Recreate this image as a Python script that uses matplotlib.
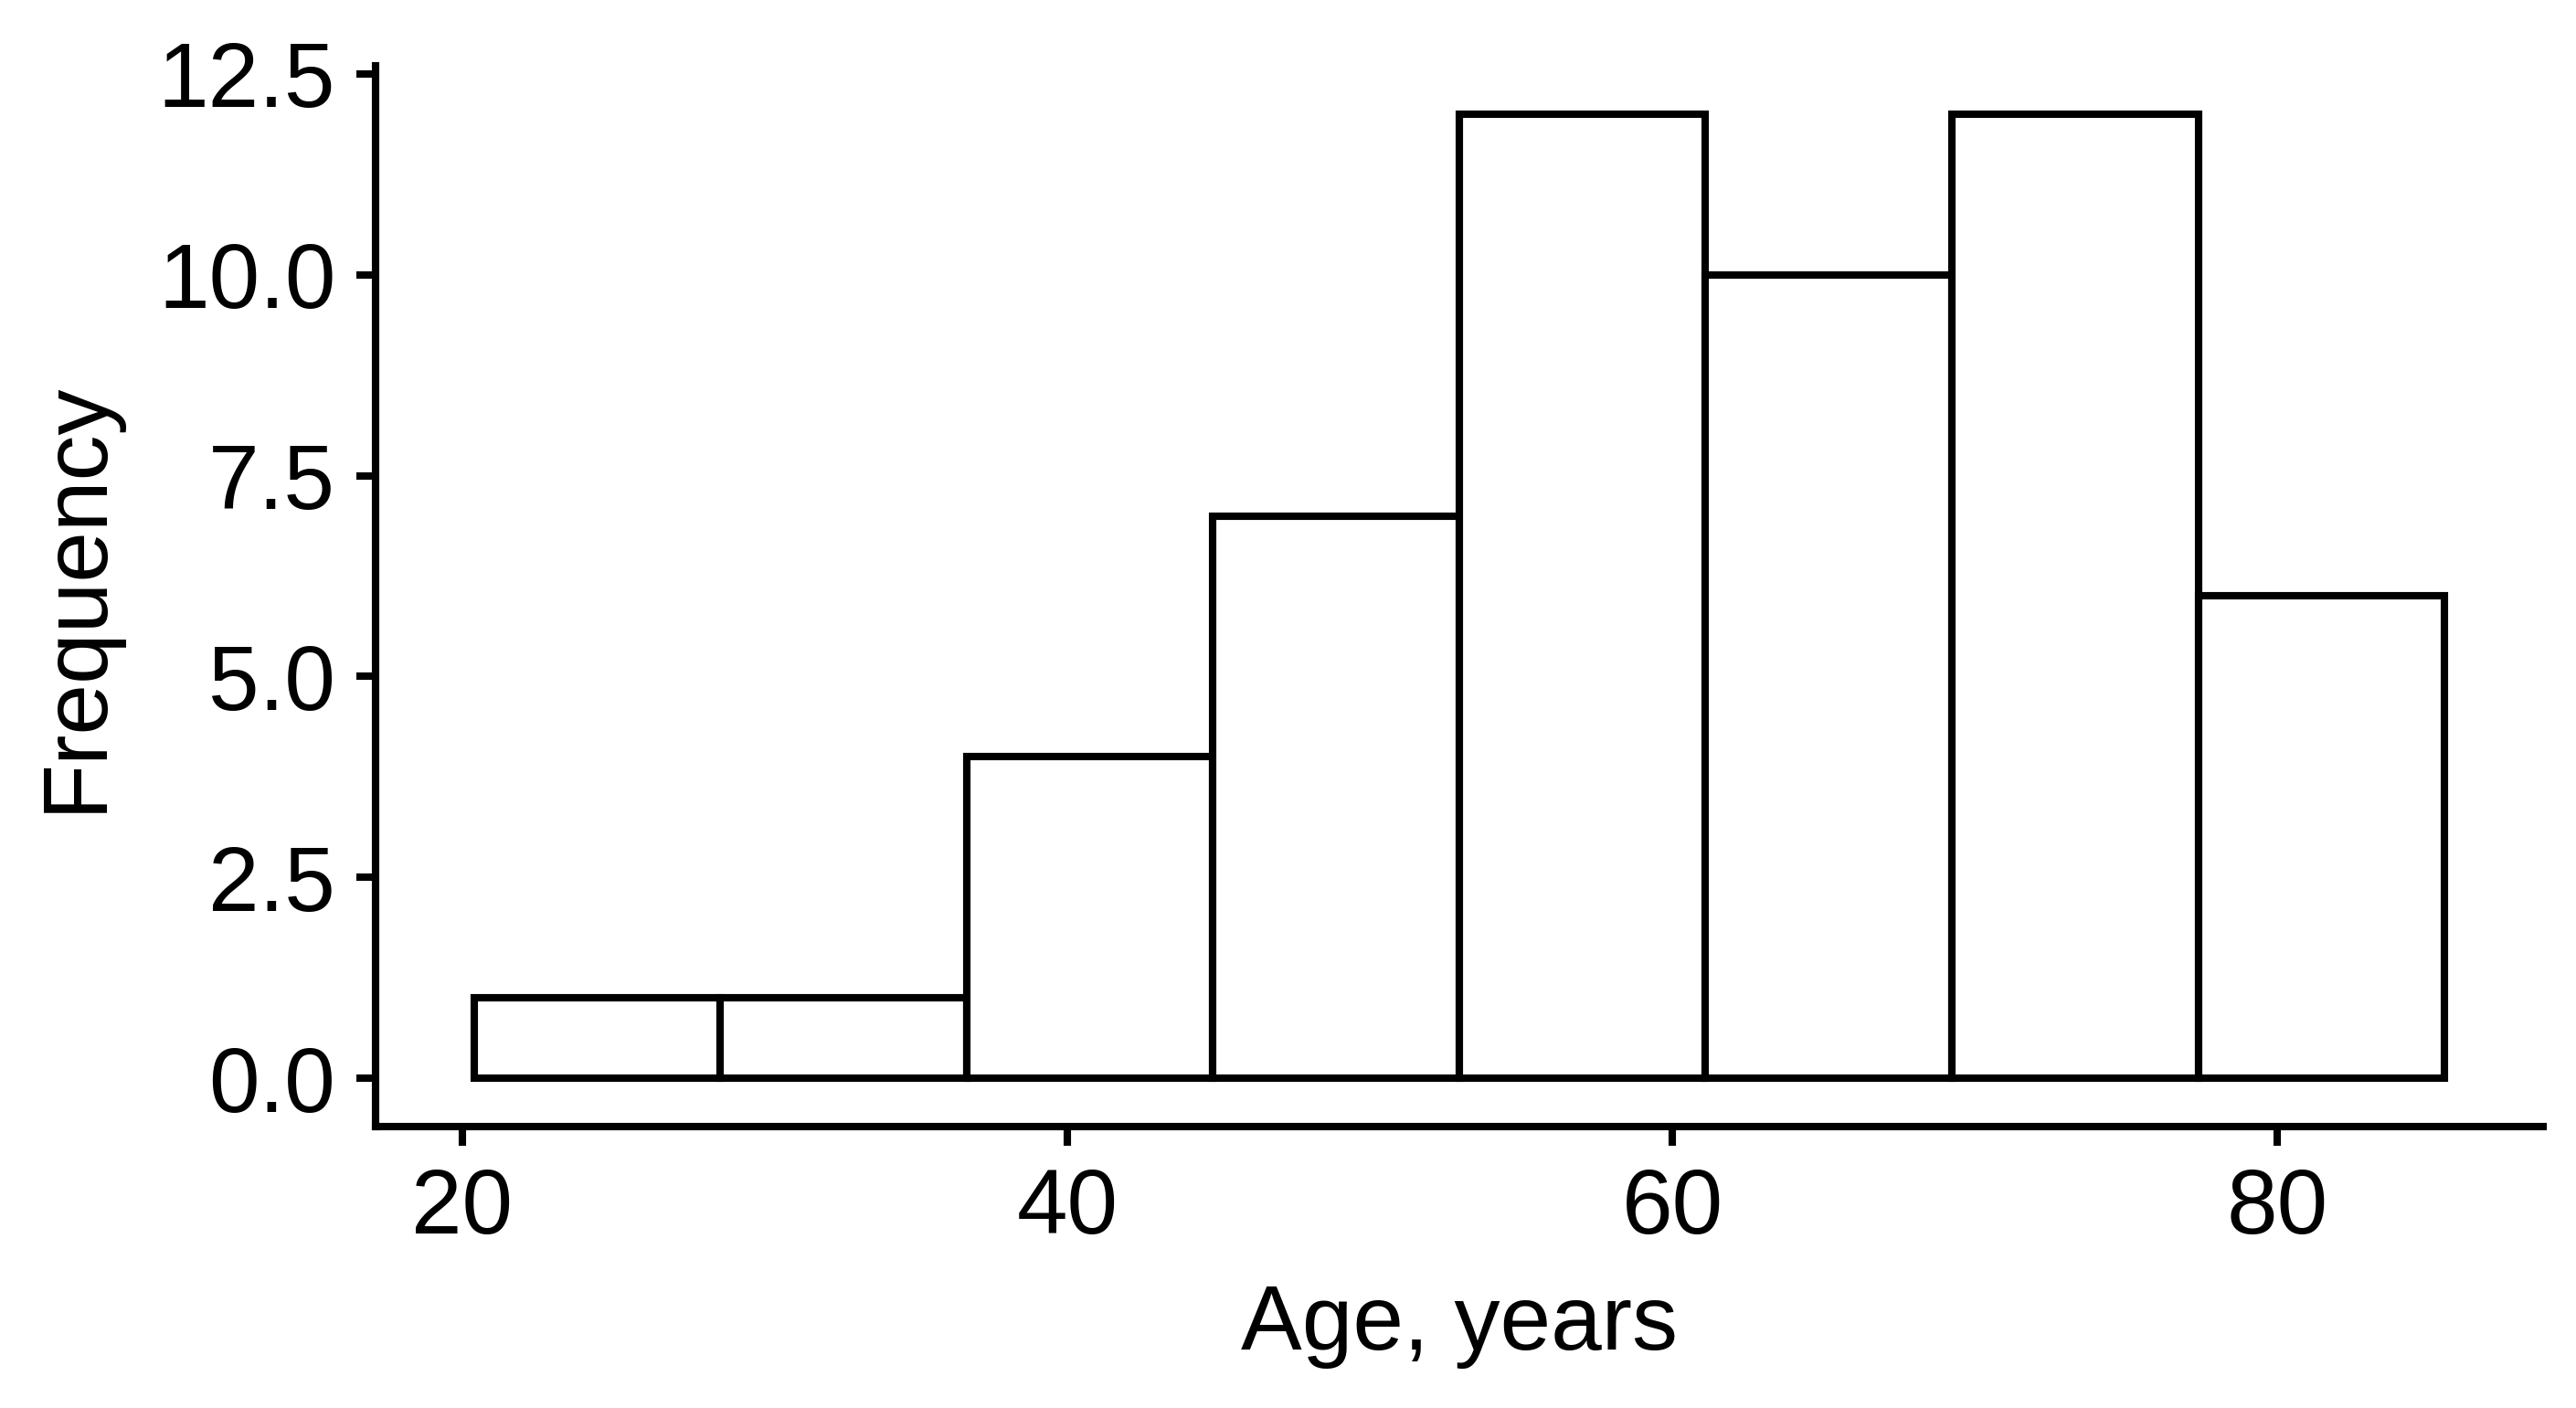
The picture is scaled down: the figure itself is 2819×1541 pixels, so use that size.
import numpy as np
import matplotlib
matplotlib.use("Agg")
import matplotlib.pyplot as plt

# histogram of age
bin_edges = [20.39, 28.53, 36.67, 44.81, 52.95, 61.09, 69.24, 77.38, 85.52]
counts = [1, 1, 4, 7, 12, 10, 12, 6]
x_ticks = [20, 40, 60, 80]
y_ticks = [0.0, 2.5, 5.0, 7.5, 10.0, 12.5]

plt.rcParams['font.family'] = ['Liberation Sans', 'DejaVu Sans']

dpi = 300
fig = plt.figure(figsize=(2819 / dpi, 1541 / dpi), dpi=dpi)
ax = fig.add_axes([0.1458, 0.1999, 0.9872 - 0.1458, 0.9533 - 0.1999])

lw = 1.95
edges = np.array(bin_edges)
ax.bar(edges[:-1], counts, width=np.diff(edges), align='edge',
       facecolor='white', edgecolor='black', linewidth=lw)

# ggplot-style 5% expansion
xr = edges[-1] - edges[0]
ax.set_xlim(edges[0] - 0.05 * xr, edges[-1] + 0.05 * xr)
ax.set_ylim(-0.05 * max(counts), max(counts) * 1.05)

ax.set_xticks(x_ticks)
ax.set_yticks(y_ticks)
ax.set_yticklabels([f"{v:.1f}" for v in y_ticks])

for side in ['top', 'right']:
    ax.spines[side].set_visible(False)
for side in ['left', 'bottom']:
    ax.spines[side].set_linewidth(lw)
ax.tick_params(axis='both', length=5, width=lw, labelsize=24, pad=5.5, color='black')

ax.set_xlabel("Age, years", fontsize=24, labelpad=8)
ax.set_ylabel("Frequency", fontsize=24, labelpad=10)

fig.savefig("out.png", dpi=dpi)
